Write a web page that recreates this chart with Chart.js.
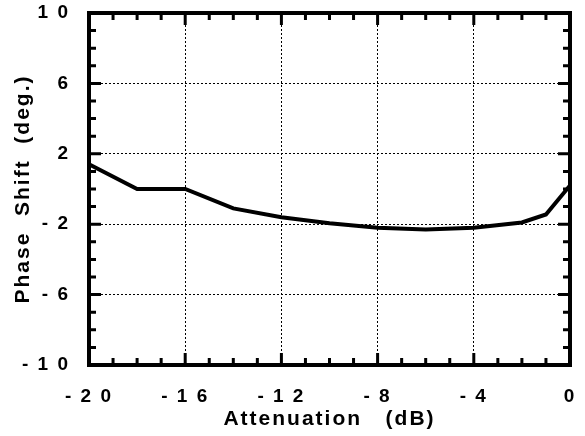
<!DOCTYPE html>
<html>
<head>
<meta charset="utf-8">
<script src="https://cdn.jsdelivr.net/npm/chart.js@4"></script>
<style>
  html, body { margin: 0; padding: 0; background: #fff; }
  #wrap { width: 585px; height: 436px; }
</style>
</head>
<body>
<div id="wrap"><canvas id="phaseChart" width="585" height="436"></canvas></div>
<script>
// attenuation (dB) and measured phase shift (deg.)
const attenuation = [-20, -18, -16, -14, -12, -10, -8, -6, -4, -2, -1, 0];
const phaseShift  = [1.4, 0, 0, -1.1, -1.6, -1.95, -2.2, -2.3, -2.2, -1.9, -1.45, 0.2];

const xRange = [-20, 0];
const yRange = [-10, 10];
const majorStep = 4;

const spaced = v => String(v).split('').join(' ');

// thick frame plus inward minor/major ticks on all four sides
const frameTicks = {
  id: 'frameTicks',
  beforeDraw(chart) {
    chart.ctx.letterSpacing = '2px';
  },
  afterDatasetsDraw(chart) {
    const { ctx, chartArea: a, scales } = chart;
    ctx.save();
    ctx.strokeStyle = '#000';
    ctx.lineWidth = 3;
    ctx.lineCap = 'butt';
    for (let v = xRange[0] + 1; v < xRange[1]; v++) {
      const px = scales.x.getPixelForValue(v);
      const len = (v - xRange[0]) % majorStep === 0 ? 12 : 7;
      ctx.beginPath();
      ctx.moveTo(px, a.bottom); ctx.lineTo(px, a.bottom - len);
      ctx.moveTo(px, a.top); ctx.lineTo(px, a.top + len);
      ctx.stroke();
    }
    for (let v = yRange[0] + 1; v < yRange[1]; v++) {
      const py = scales.y.getPixelForValue(v);
      const len = (v - yRange[0]) % majorStep === 0 ? 12 : 7;
      ctx.beginPath();
      ctx.moveTo(a.left, py); ctx.lineTo(a.left + len, py);
      ctx.moveTo(a.right, py); ctx.lineTo(a.right - len, py);
      ctx.stroke();
    }
    ctx.lineWidth = 4;
    ctx.strokeRect(a.left, a.top, a.right - a.left, a.bottom - a.top);
    ctx.restore();
  }
};

new Chart(document.getElementById('phaseChart'), {
  type: 'line',
  data: {
    datasets: [{
      data: attenuation.map((x, i) => ({ x, y: phaseShift[i] })),
      borderColor: '#000',
      borderWidth: 4,
      pointRadius: 0,
      tension: 0,
      fill: false
    }]
  },
  options: {
    responsive: false,
    animation: false,
    layout: { padding: { top: 13, right: 15, left: 0, bottom: 0 } },
    plugins: { legend: { display: false }, tooltip: { enabled: false } },
    scales: {
      x: {
        type: 'linear',
        min: xRange[0], max: xRange[1],
        afterFit: s => { s.height = 71; s.paddingLeft = 0; s.paddingRight = 0; },
        border: { display: false, dash: [2, 2] },
        grid: { color: '#000', lineWidth: 1, drawTicks: false },
        ticks: {
          stepSize: majorStep, padding: 20, color: '#000',
          font: { family: 'Liberation Sans', size: 19, weight: 'bold' },
          callback: spaced
        },
        title: {
          display: true, text: 'Attenuation   (dB)', color: '#000',
          padding: { bottom: 4 },
          font: { family: 'Liberation Sans', size: 21, weight: 'bold' }
        }
      },
      y: {
        min: yRange[0], max: yRange[1],
        afterFit: s => { s.width = 89; s.paddingTop = 0; s.paddingBottom = 0; },
        border: { display: false, dash: [2, 2] },
        grid: { color: '#000', lineWidth: 1, drawTicks: false },
        ticks: {
          stepSize: majorStep, padding: 19, color: '#000',
          font: { family: 'Liberation Sans', size: 19, weight: 'bold' },
          callback: spaced
        },
        title: {
          display: true, text: 'Phase  Shift  (deg.)', color: '#000',
          padding: { top: 11 },
          font: { family: 'Liberation Sans', size: 21, weight: 'bold' }
        }
      }
    }
  },
  plugins: [frameTicks]
});
</script>
</body>
</html>
